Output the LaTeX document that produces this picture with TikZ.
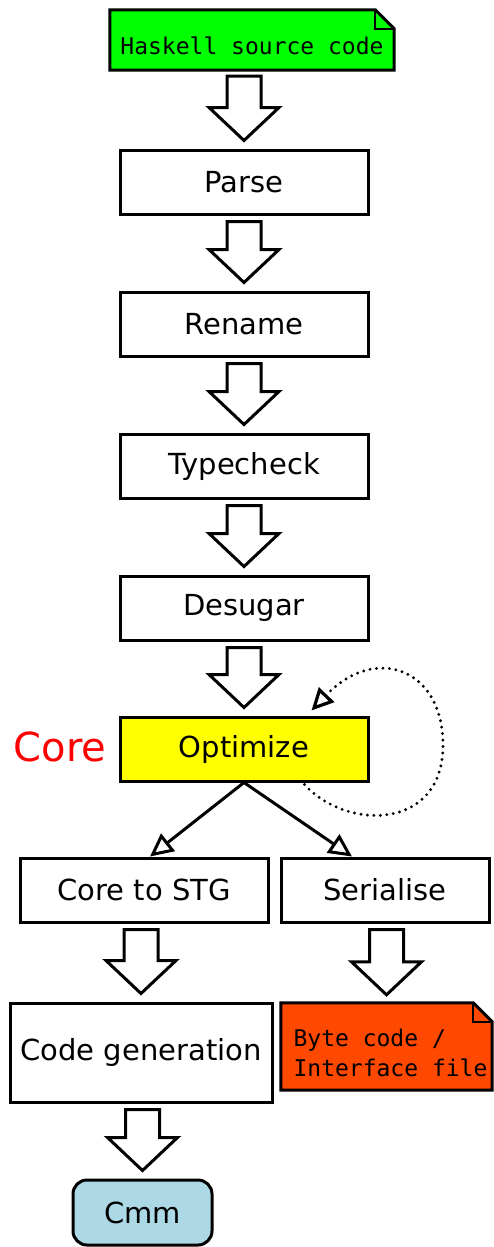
\documentclass[tikz,border=0pt]{standalone}
\usepackage{fontspec}
\setmainfont{DejaVu Sans}
\setmonofont{DejaVu Sans Mono}
\usetikzlibrary{arrows.meta,calc,backgrounds}

\definecolor{srcgreen}{RGB}{0,255,0}
\definecolor{optyellow}{RGB}{255,255,0}
\definecolor{byteorange}{RGB}{255,72,0}
\definecolor{cmmblue}{RGB}{173,216,230}

% hollow block arrow from one stage to the next
\newcommand{\fatarrow}[2]{%
  \coordinate (tip) at ($(#2.north)+(0,8)$);
  \coordinate (top) at ($(#2.north |- #1.south)+(0,-6)$);
  \draw[fat] (tip) -- ++(35,33) -- ++(-18,0) |- ($(top)+(17,0)$) -- ($(top)+(-17,0)$) |- ($(tip)+(-35,33)$) -- cycle;
}
% file outline with a folded corner
\newcommand{\docshape}[2]{%
  \begin{scope}[on background layer]
    \filldraw[fill=#2, line width=3pt] (#1.south west) -- (#1.north west) -- ($(#1.north east)+(-19,0)$) -- ($(#1.north east)+(0,-19)$) -- (#1.south east) -- cycle;
    \draw[line width=2.2pt] ($(#1.north east)+(-19,0)$) |- ($(#1.north east)+(0,-19)$);
  \end{scope}
}

\begin{document}
\begin{tikzpicture}[x=1pt, y=1pt,
    stage/.style={rectangle, draw, line width=3pt, minimum height=64pt, minimum width=248pt, inner sep=0pt, font=\fontsize{29}{34}\selectfont},
    doc/.style={rectangle, inner sep=0pt, font=\fontsize{23}{30}\selectfont\ttfamily},
    fat/.style={draw, fill=white, line width=3pt, line join=miter},
    arrow/.style={-{Triangle[open, length=23pt, width=22pt]}, line width=3pt}
]
    \useasboundingbox (0,0) rectangle (494,-1247);

    % front end
    \node[doc, minimum width=284pt, minimum height=60pt, text height=30pt, text depth=0pt] (src) at (252,-40) {Haskell source code};
    \docshape{src}{srcgreen}
    \node[stage] (parse) at (244,-182) {Parse};
    \node[stage] (rename) at (244,-324) {Rename};
    \node[stage] (tcheck) at (244,-466) {Typecheck};
    \node[stage] (desugar) at (244,-608) {Desugar};
    \fatarrow{src}{parse}
    \fatarrow{parse}{rename}
    \fatarrow{rename}{tcheck}
    \fatarrow{tcheck}{desugar}

    % Core
    \node[stage, fill=optyellow] (optimize) at (244,-749) {Optimize};
    \node[text=red, font=\fontsize{40}{46}\selectfont] (corelbl) at (60,-747) {Core};
    \fatarrow{desugar}{optimize}
    \draw[line width=3.2pt, dash pattern=on 0pt off 6.5pt, line cap=round, -{Triangle[open, length=22pt, width=21pt]}]
        ($(optimize.south east)+(-65,-2)$) .. controls (345,-830) and (443,-832) .. (443,-745)
        .. controls (443,-668) and (375,-644) .. ($(optimize.north east)+(-58,5)$);

    % back end
    \node[stage] (corestg) at (144,-890) {Core to STG};
    \node[stage, minimum width=208pt] (serial) at (385,-890) {Serialise};
    \draw[arrow] (optimize.south) -- ($(corestg.north)+(6,0)$);
    \draw[arrow] (optimize.south) -- ($(serial.north)+(-33,0)$);

    \node[stage, minimum width=262pt, minimum height=99pt] (codegen) at (141,-1052.5) {Code generation};
    \node[doc, minimum width=211pt, minimum height=87pt] (bytecode) at (386.5,-1046.5) {};
    \node[doc, align=left] (bytetext) at ($(bytecode)+(4,-6)$) {Byte code /\\Interface file};
    \docshape{bytecode}{byteorange}
    \fatarrow{corestg}{codegen}
    \fatarrow{serial}{bytecode}

    \node[stage, fill=cmmblue, rounded corners=14pt, minimum width=139pt, minimum height=65pt] (cmm) at (142.5,-1212.5) {Cmm};
    \fatarrow{codegen}{cmm}
\end{tikzpicture}
\end{document}
